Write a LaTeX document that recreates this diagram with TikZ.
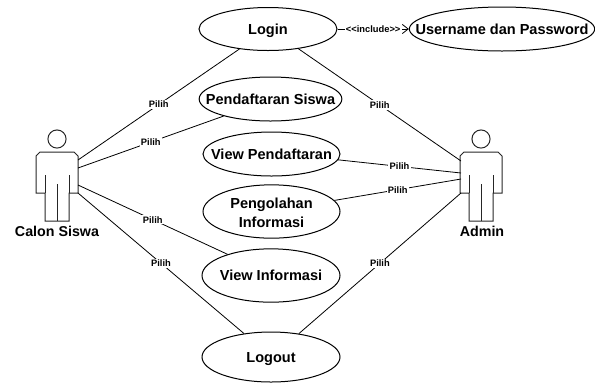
\documentclass[tikz,border=0pt]{standalone}
\usepackage{fontspec}
\setmainfont{Liberation Sans}
\usetikzlibrary{shapes.geometric,arrows.meta}
\tikzset{
  x=0.75pt,y=-0.75pt,
  usecase/.style={draw=black,line width=0.75pt,ellipse,inner sep=0pt,font=\bfseries\fontsize{10.9}{14.2}\selectfont},
  actorname/.style={inner sep=0pt,font=\bfseries\fontsize{10.7}{13}\selectfont},
  link/.style={draw=black,line width=0.6pt},
  lab/.style={fill=white,inner sep=1pt,font=\bfseries\fontsize{7}{8}\selectfont},
  body/.style={draw=black!85,line width=0.75pt,line join=miter},
  inc/.style={link,-{Straight Barb[length=4.5pt,width=7pt]}}
}
\newcommand{\ct}[2][0pt]{\raisebox{\dimexpr-0.36em+#1\relax}[0pt][0pt]{\makebox[0pt]{#2}}}
\newcommand{\actorfig}[2]{%
  \draw[body] (#1,#2) circle[radius=6.8pt];
  \draw[body] (#1-21,#2+17) -- (#1-21,#2+54) -- (#1-12,#2+54) -- (#1-12,#2+82) -- (#1+12,#2+82) -- (#1+12,#2+54) -- (#1+21,#2+54) -- (#1+21,#2+17) -- (#1+17,#2+13) -- (#1-17,#2+13) -- cycle;
  \draw[body] (#1-12,#2+36) -- (#1-12,#2+54) (#1+12,#2+36) -- (#1+12,#2+54) (#1,#2+45) -- (#1,#2+82);
}
\begin{document}
\begin{tikzpicture}
\useasboundingbox (0,0) rectangle (595,383);
\node[usecase,minimum width=103.5pt,minimum height=32.25pt] (login) at (268,29) {\ct{Login}};
\node[usecase,minimum width=139pt,minimum height=33pt] (user) at (502,29) {\ct{Username dan Password}};
\node[usecase,minimum width=107pt,minimum height=33pt] (daftar) at (270.5,99) {\ct{Pendaftaran Siswa}};
\node[usecase,minimum width=102.75pt,minimum height=33pt] (view) at (271.5,154) {\ct{View Pendaftaran}};
\node[usecase,minimum width=102.75pt,minimum height=40pt] (olah) at (271.5,211.5) {\ct[6.4pt]{Pengolahan}\ct[-7.8pt]{Informasi}};
\node[usecase,minimum width=103.5pt,minimum height=40pt] (info) at (271,275.5) {\ct{View Informasi}};
\node[usecase,minimum width=103.5pt,minimum height=37.5pt] (logout) at (271,357) {\ct{Logout}};
\actorfig{57}{139}
\actorfig{481}{139}
\node[actorname] (calon) at (57,231) {Calon Siswa};
\node[actorname] (admin) at (482,231) {Admin};
\coordinate (L1) at (78,160);
\coordinate (L2) at (78,168);
\coordinate (L3) at (78,185);
\coordinate (L4) at (78,193);
\coordinate (R1) at (461,161);
\coordinate (R2) at (461,173);
\coordinate (R3) at (461,179);
\coordinate (R4) at (461,193);
\draw[link] (L1) -- node[lab,pos=0.5] {Pilih} (login.215);
\draw[link] (L2) -- node[lab,pos=0.5] {Pilih} (daftar.200);
\draw[link] (L3) -- node[lab,pos=0.5] {Pilih} (info.154);
\draw[link] (L4) -- node[lab,pos=0.5] {Pilih} (logout.139.4);
\draw[link] (R1) -- node[lab,pos=0.5] {Pilih} (login.-33.7);
\draw[link] (R2) -- node[lab,pos=0.5] {Pilih} (view.-5);
\draw[link] (R3) -- node[lab,pos=0.5] {Pilih} (olah.10);
\draw[link] (R4) -- node[lab,pos=0.5] {Pilih} (logout.40.6);
\draw[inc] (login) -- node[lab,pos=0.5] {<{}<include>{}>} (user);
\end{tikzpicture}
\end{document}
